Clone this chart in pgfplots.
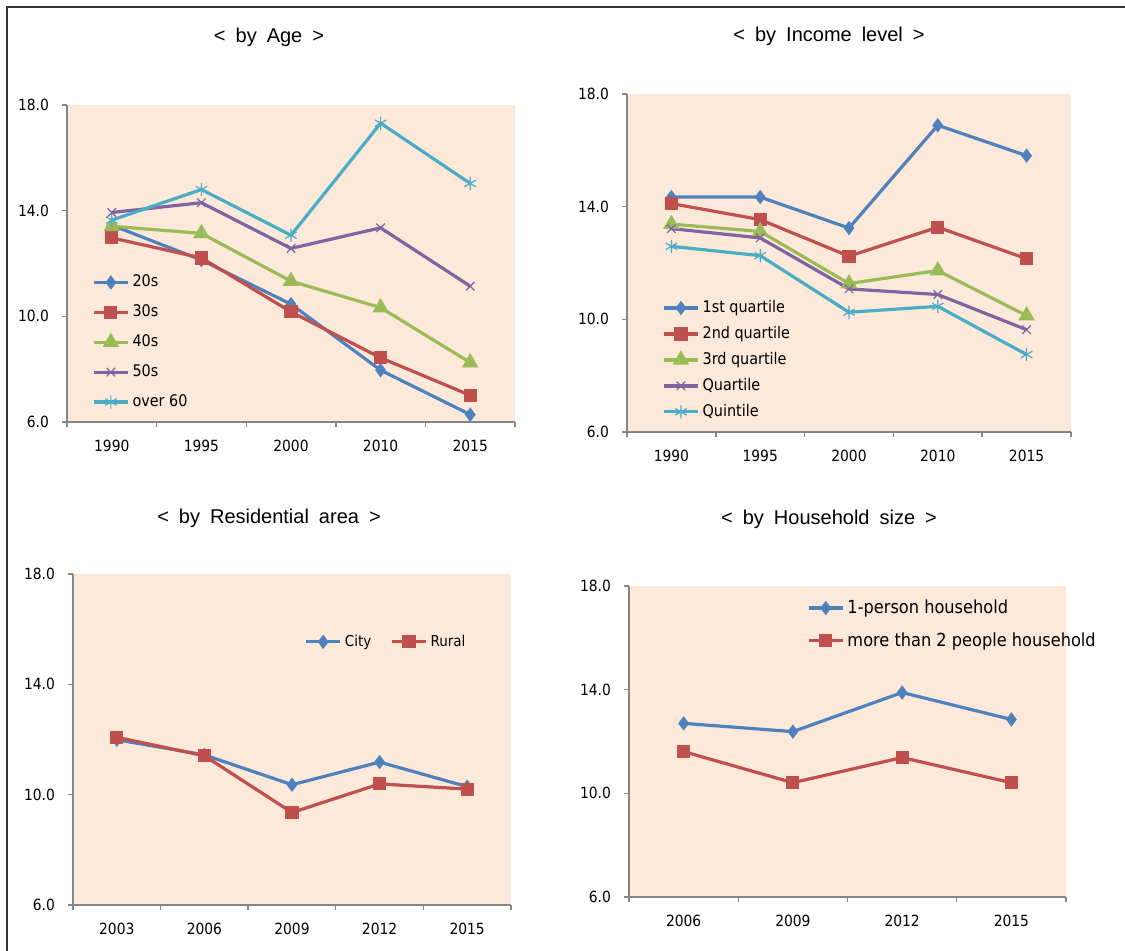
\documentclass[border=0pt]{standalone}
\usepackage{fontspec}
\setmainfont{Liberation Sans}
\newfontfamily\tickfont{DejaVu Sans Condensed}
\usepackage{pgfplots}
\pgfplotsset{compat=1.18}

\definecolor{peach}{HTML}{FDE9D9}
\definecolor{axgray}{HTML}{868686}
\definecolor{cblue}{HTML}{4F81BD}
\definecolor{cred}{HTML}{C0504D}
\definecolor{cgreen}{HTML}{9BBB59}
\definecolor{cpurple}{HTML}{8064A2}
\definecolor{ccyan}{HTML}{4BACC6}

\pgfplotsset{
  panel/.style={
    scale only axis, anchor=south west,
    axis x line*=bottom, axis y line*=left,
    axis line style={axgray, line width=0.7pt, -},
    axis background/.style={fill=peach},
    ymin=6, ymax=18, ytick={6,10,14,18},
    yticklabel style={/pgf/number format/fixed, /pgf/number format/fixed zerofill, /pgf/number format/precision=1, xshift=-3pt},
    /pgf/number format/assume math mode=true,
    ticklabel style={font=\tickfont\fontsize{7.7}{9}\selectfont, text=black},
    xticklabel style={yshift=-3pt},
    tick align=outside, major tick length=2.5pt, minor tick length=2.5pt,
    tick style={axgray, line width=0.7pt},
    major x tick style={opacity=0},
    xmin=-0.5,
    legend style={draw=none, fill=none, font=\tickfont\fontsize{8}{9.6}\selectfont, row sep=1pt,
      nodes={inner xsep=1.5pt}},
    legend cell align=left,
  },
  s1/.style={cblue, line width=1.6pt, mark=diamond*, mark size=2.3pt, mark options={solid, fill=cblue}},
  s2/.style={cred, line width=1.6pt, mark=square*, mark size=2.5pt, mark options={solid, fill=cred}},
  s3/.style={cgreen, line width=1.6pt, mark=triangle*, mark size=3.2pt, mark options={solid, fill=cgreen}},
  s4/.style={cpurple, line width=1.6pt, mark=x, mark size=3pt, mark options={solid, line width=0.6pt}},
  s5/.style={ccyan, line width=1.6pt, mark=asterisk, mark size=3.3pt, mark options={solid, line width=0.6pt}},
}

\begin{document}
\begin{tikzpicture}
\useasboundingbox (0,0) rectangle (562.5pt,475.5pt);
\draw[black!80, line width=0.8pt] (3.5pt,0pt) -- (3.5pt,472pt) -- (562.5pt,472pt);

% titles
\node[font=\fontsize{10}{12}\selectfont] at (134.5pt,457pt) {<\hspace{5pt}by\hspace{5pt}Age\hspace{5pt}>};
\node[font=\fontsize{10}{12}\selectfont] at (414.5pt,457.5pt) {<\hspace{5pt}by\hspace{5pt}Income\hspace{5pt}level\hspace{5pt}>};
\node[font=\fontsize{10}{12}\selectfont] at (134.5pt,216.5pt) {<\hspace{5pt}by\hspace{5pt}Residential\hspace{5pt}area\hspace{5pt}>};
\node[font=\fontsize{10}{12}\selectfont] at (414.5pt,216pt) {<\hspace{5pt}by\hspace{5pt}Household\hspace{5pt}size\hspace{5pt}>};

% by Age
\begin{axis}[panel, at={(33.5pt,264.5pt)}, width=224pt, height=158.5pt,
  xmax=4.5, xtick={0,...,4}, xticklabels={1990,1995,2000,2010,2015},
  minor xtick={-0.5,0.5,...,4.5},
  legend style={at={(0.042,0.49)}, anchor=north west, row sep=3.5pt}]
\addplot[s1] coordinates {(0,13.45) (1,12.13) (2,10.46) (3,7.96) (4,6.28)};
\addplot[s2] coordinates {(0,12.97) (1,12.21) (2,10.17) (3,8.43) (4,7.01)};
\addplot[s3] coordinates {(0,13.41) (1,13.14) (2,11.33) (3,10.33) (4,8.25)};
\addplot[s4] coordinates {(0,13.93) (1,14.30) (2,12.57) (3,13.35) (4,11.14)};
\addplot[s5] coordinates {(0,13.64) (1,14.80) (2,13.07) (3,17.31) (4,15.03)};
\legend{20s,30s,40s,50s,over 60}
\end{axis}

% by Income level
\begin{axis}[panel, at={(313.5pt,259.5pt)}, width=222pt, height=169pt,
  xmax=4.5, xtick={0,...,4}, xticklabels={1990,1995,2000,2010,2015},
  minor xtick={-0.5,0.5,...,4.5},
  legend style={at={(0.065,0.414)}, anchor=north west, row sep=1.4pt}]
\addplot[s1] coordinates {(0,14.34) (1,14.34) (2,13.24) (3,16.89) (4,15.81)};
\addplot[s2] coordinates {(0,14.11) (1,13.54) (2,12.24) (3,13.27) (4,12.15)};
\addplot[s3] coordinates {(0,13.38) (1,13.12) (2,11.27) (3,11.73) (4,10.13)};
\addplot[s4] coordinates {(0,13.22) (1,12.89) (2,11.08) (3,10.88) (4,9.63)};
\addplot[s5] coordinates {(0,12.59) (1,12.26) (2,10.25) (3,10.46) (4,8.75)};
\legend{1st quartile,2nd quartile,3rd quartile,Quartile,Quintile}
\end{axis}

% by Residential area
\begin{axis}[panel, at={(36.5pt,23pt)}, width=219pt, height=165.5pt,
  xmax=4.5, xtick={0,...,4}, xticklabels={2003,2006,2009,2012,2015},
  minor xtick={-0.5,0.5,...,4.5},
  legend columns=2,
  legend style={at={(0.514,0.795)}, anchor=west, font=\tickfont\fontsize{7.5}{9}\selectfont,
    /tikz/every even column/.append style={column sep=8pt}}]
\addplot[s1] coordinates {(0,11.99) (1,11.44) (2,10.36) (3,11.18) (4,10.29)};
\addplot[s2] coordinates {(0,12.08) (1,11.41) (2,9.35) (3,10.39) (4,10.20)};
\legend{City,Rural}
\end{axis}

% by Household size
\begin{axis}[panel, at={(314.5pt,27pt)}, width=218.5pt, height=155.5pt,
  xmax=3.5, xtick={0,...,3}, xticklabels={2006,2009,2012,2015},
  minor xtick={-0.5,0.5,...,3.5},
  legend style={at={(0.393,0.983)}, anchor=north west, row sep=4pt,
    font=\tickfont\fontsize{9}{10.5}\selectfont}]
\addplot[s1] coordinates {(0,12.70) (1,12.38) (2,13.89) (3,12.85)};
\addplot[s2] coordinates {(0,11.61) (1,10.41) (2,11.38) (3,10.41)};
\legend{1-person household,more than 2 people household}
\end{axis}
\end{tikzpicture}
\end{document}
